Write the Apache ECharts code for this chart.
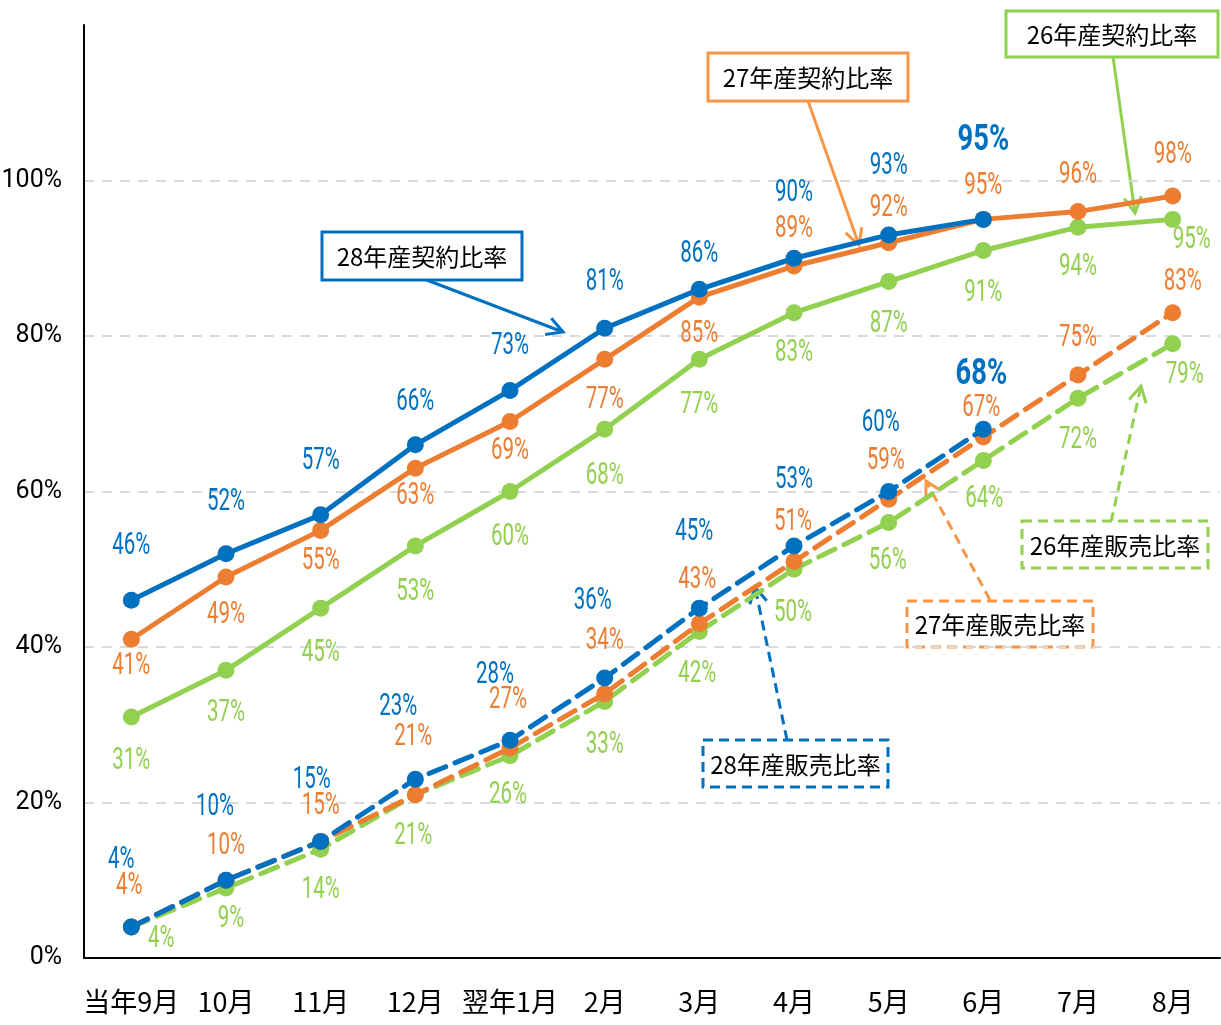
<!DOCTYPE html>
<html lang="ja">
<head>
<meta charset="UTF-8">
<title>契約比率・販売比率</title>
<script src="https://cdn.jsdelivr.net/npm/echarts@6/dist/echarts.min.js"></script>
<style>
  html, body { margin: 0; padding: 0; background: #fff; }
  #main { width: 1221px; height: 1025px; }
</style>
</head>
<body>
<div id="main"></div>
<script>
// データ
var months = ['当年9月', '10月', '11月', '12月', '翌年1月', '2月', '3月', '4月', '5月', '6月', '7月', '8月'];
var yTicks = [0, 20, 40, 60, 80, 100];

var keiyaku28 = [46, 52, 57, 66, 73, 81, 86, 90, 93, 95];
var keiyaku27 = [41, 49, 55, 63, 69, 77, 85, 89, 92, 95, 96, 98];
var keiyaku26 = [31, 37, 45, 53, 60, 68, 77, 83, 87, 91, 94, 95];
var hanbai28 = [4, 10, 15, 23, 28, 36, 45, 53, 60, 68];
var hanbai27 = [4, 10, 15, 21, 27, 34, 43, 51, 59, 67, 75, 83];
var hanbai26 = [4, 9, 14, 21, 26, 33, 42, 50, 56, 64, 72, 79];

var BLUE = '#0070C0', ORANGE = '#ED7D31', GREEN = '#92D050', LORANGE = '#F79646';

// ラベル位置（点からのずれ px）
var offK28 = [[0,-54],[0,-52],[0,-54],[0,-43],[0,-44],[0,-46],[0,-35],[0,-65],[0,-69],[0,-78]];
var offK27 = [[0,27],[0,38],[0,31],[0,28],[0,29],[0,41],[0,37],[0,-37],[0,-35],[0,-33],[0,-37],[0,-41]];
var offK26 = [[0,44],[0,43],[0,45],[0,46],[0,45],[0,47],[0,46],[0,40],[0,42],[0,43],[0,40],[19,21]];
var offH28 = [[-10,-67],[-11,-73],[-9,-61],[-17,-72],[-15,-65],[-12,-77],[-5,-76],[0,-66],[-8,-69],[-2,-54]];
var offH27 = [[-2,-41],[0,-34],[0,-35],[-2,-58],[-2,-48],[0,-53],[-2,-44],[-1,-39],[-3,-38],[-2,-29],[0,-37],[10,-31]];
var offH26 = [[30,12],[5,31],[0,41],[-2,41],[-2,39],[0,44],[-2,43],[-1,44],[-1,38],[1,39],[0,42],[12,31]];

var JP = "'Noto Sans CJK JP', sans-serif";

var chart = echarts.init(document.getElementById('main'));

function lineSeries(name, vals, color, dashed, z) {
    return {
        name: name,
        type: 'line',
        data: vals,
        z: z,
        symbol: 'circle',
        symbolSize: 17,
        itemStyle: { color: color },
        lineStyle: {
            color: color,
            width: 5,
            type: dashed ? [18, 10] : 'solid',
            cap: dashed ? 'round' : 'butt'
        },
        emphasis: { disabled: true },
        animation: false
    };
}

// 細長い数字ラベルを座標変換で描く
function labelSeries(vals, color, off, boldIdx, z) {
    return {
        type: 'custom',
        silent: true,
        z: z,
        animation: false,
        data: vals.map(function (v, i) { return [i, v]; }),
        renderItem: function (params, api) {
            var i = params.dataIndex;
            var p = api.coord([api.value(0), api.value(1)]);
            var bold = i === boldIdx;
            return {
                type: 'text',
                x: p[0] + off[i][0],
                y: p[1] + off[i][1],
                scaleX: bold ? 0.76 : 0.64,
                style: {
                    text: api.value(1) + '%',
                    fill: color,
                    fontSize: bold ? 36 : 32,
                    fontWeight: bold ? 'bold' : 'normal',
                    fontFamily: 'Roboto',
                    align: 'center',
                    verticalAlign: 'middle'
                }
            };
        }
    };
}

// 注記の箱と矢印
function box(x, y, w, h, color, dashed, text) {
    return {
        type: 'group',
        children: [{
            type: 'rect',
            shape: { x: x, y: y, width: w, height: h },
            style: { fill: '#fff', stroke: color, lineWidth: 3, lineDash: dashed ? [10, 6] : null }
        }, {
            type: 'text',
            x: x + w / 2,
            y: y + h / 2 + 1,
            style: {
                text: text, fill: '#000', fontSize: 24, fontFamily: JP,
                align: 'center', verticalAlign: 'middle'
            }
        }]
    };
}

function arrow(x1, y1, x2, y2, color, dashed) {
    var ang = Math.atan2(y2 - y1, x2 - x1);
    var len = 18, spread = 0.5;
    var a1 = [x2 - len * Math.cos(ang - spread), y2 - len * Math.sin(ang - spread)];
    var a2 = [x2 - len * Math.cos(ang + spread), y2 - len * Math.sin(ang + spread)];
    return {
        type: 'group',
        children: [{
            type: 'line',
            shape: { x1: x1, y1: y1, x2: x2, y2: y2 },
            style: { stroke: color, lineWidth: 3, lineDash: dashed ? [10, 6] : null }
        }, {
            type: 'polyline',
            shape: { points: [a1, [x2, y2], a2] },
            style: { stroke: color, lineWidth: 3, fill: null }
        }]
    };
}

var option = {
    backgroundColor: '#fff',
    animation: false,
    grid: { left: 84, right: 1, top: 25, bottom: 67, containLabel: false, outerBoundsMode: 'none' },
    xAxis: {
        type: 'category',
        data: months,
        boundaryGap: true,
        axisLine: { lineStyle: { color: '#000', width: 2 } },
        axisTick: { show: false },
        axisLabel: { color: '#000', fontSize: 27, fontFamily: JP, margin: 30, interval: 0 }
    },
    yAxis: {
        type: 'value',
        min: 0,
        max: 120,
        interval: 20,
        axisLine: { show: true, lineStyle: { color: '#000', width: 2 } },
        axisTick: { show: false },
        axisLabel: {
            color: '#000', fontSize: 25, fontFamily: 'Roboto', margin: 22,
            showMaxLabel: false,
            formatter: function (v) { return yTicks.indexOf(v) >= 0 ? v + '%' : ''; }
        },
        splitLine: {
            show: true,
            showMaxLine: false,
            lineStyle: { color: '#d9d9d9', width: 2, type: [10, 8] }
        }
    },
    series: [
        lineSeries('26年産契約比率', keiyaku26, GREEN, false, 2),
        lineSeries('27年産契約比率', keiyaku27, ORANGE, false, 3),
        lineSeries('28年産契約比率', keiyaku28, BLUE, false, 4),
        lineSeries('26年産販売比率', hanbai26, GREEN, true, 2),
        lineSeries('27年産販売比率', hanbai27, ORANGE, true, 3),
        lineSeries('28年産販売比率', hanbai28, BLUE, true, 4),
        labelSeries(keiyaku26, GREEN, offK26, -1, 6),
        labelSeries(keiyaku27, ORANGE, offK27, -1, 6),
        labelSeries(keiyaku28, BLUE, offK28, 9, 6),
        labelSeries(hanbai26, GREEN, offH26, -1, 6),
        labelSeries(hanbai27, ORANGE, offH27, -1, 6),
        labelSeries(hanbai28, BLUE, offH28, 9, 6)
    ],
    graphic: [
        arrow(424, 279, 563, 332, BLUE, false),
        arrow(808, 101, 859, 245, LORANGE, false),
        arrow(1113, 57, 1135, 213, GREEN, false),
        arrow(1111, 522, 1141, 386, GREEN, true),
        arrow(990, 600, 926, 481, LORANGE, true),
        arrow(787, 740, 755, 587, BLUE, true),
        box(322, 232, 200, 48, BLUE, false, '28年産契約比率'),
        box(708, 53, 200, 48, LORANGE, false, '27年産契約比率'),
        box(1006, 11, 212, 46, GREEN, false, '26年産契約比率'),
        box(1022, 521, 186, 47, GREEN, true, '26年産販売比率'),
        box(907, 601, 186, 46, LORANGE, true, '27年産販売比率'),
        box(703, 740, 185, 47, BLUE, true, '28年産販売比率')
    ]
};

chart.setOption(option);
</script>
</body>
</html>
